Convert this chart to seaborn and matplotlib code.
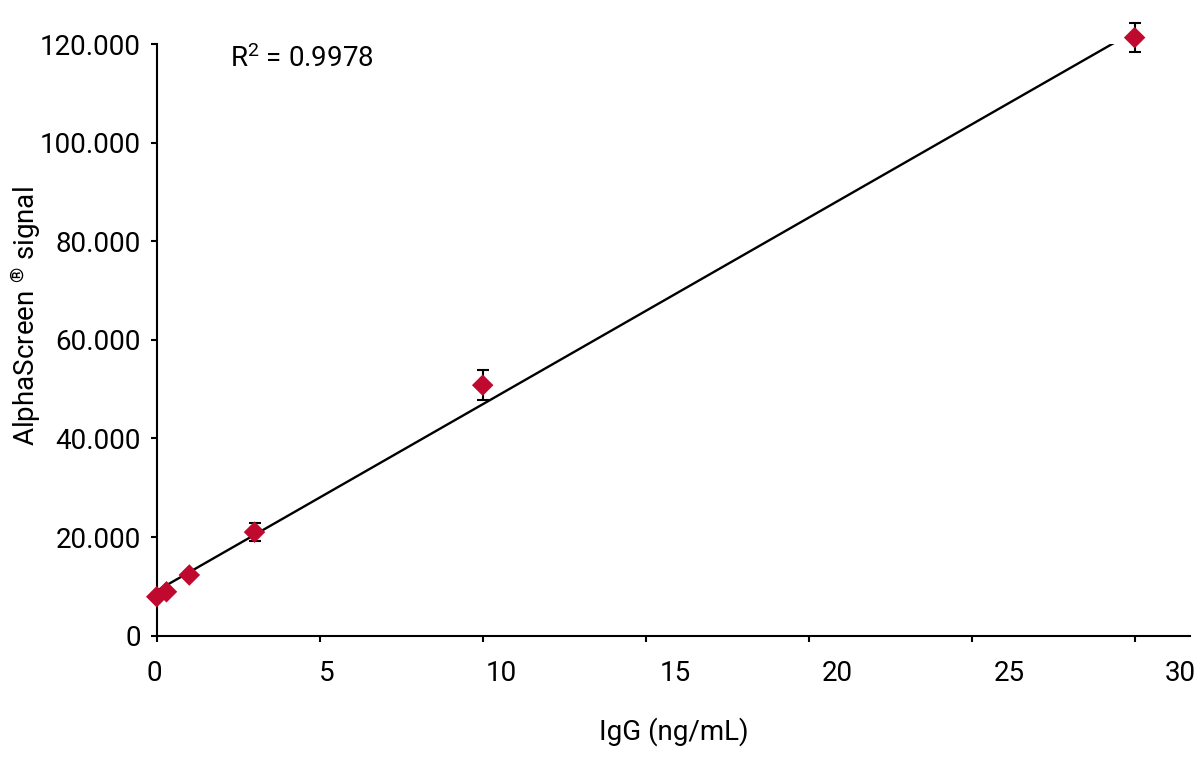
import numpy as np
import pandas as pd
import matplotlib
matplotlib.use("Agg")
import matplotlib.pyplot as plt
import matplotlib.transforms as mtransforms
import seaborn as sns

# values
conc = [0, 0.3, 1, 3, 10, 30]                               # IgG (ng/mL)
signal = [7900, 8900, 12300, 21000, 50800, 121300]          # AlphaScreen signal
signal_sd = [400, 400, 600, 1900, 3000, 3000]
r2_text = "0.9978"
x_ticks = [0, 5, 10, 15, 20, 25, 30]
y_ticks = [0, 20000, 40000, 60000, 80000, 100000, 120000]
y_tick_labels = ["0", "20.000", "40.000", "60.000", "80.000", "100.000", "120.000"]

# the original x tick labels drift to the right of their ticks (pixels)
x_label_shift_px = [-2, 7, 19, 30, 29, 38, 46]

point_color = "#C0092F"

sns.set_theme(style="ticks")
plt.rcParams["font.family"] = ["Roboto", "DejaVu Sans"]
plt.rcParams["mathtext.fontset"] = "custom"
plt.rcParams["mathtext.rm"] = "Roboto"
plt.rcParams["mathtext.default"] = "regular"

df = pd.DataFrame({"IgG": conc, "signal": signal, "sd": signal_sd})

fig = plt.figure(figsize=(12, 7.72), dpi=100)
ax = fig.add_axes([0.1306, 0.1766, 0.8611, 0.7664])

# error bars behind the markers
ax.errorbar(df["IgG"], df["signal"], yerr=df["sd"], fmt="none", ecolor="black",
            elinewidth=1.5, capsize=4.5, capthick=1.5, clip_on=False, zorder=2)

# linear fit
sns.regplot(data=df, x="IgG", y="signal", scatter=False, ci=None, truncate=True,
            line_kws=dict(color="black", lw=1.7, zorder=3), ax=ax)

# points
sns.scatterplot(data=df, x="IgG", y="signal", marker="D", s=120, color=point_color,
                edgecolor="none", linewidth=0, zorder=4, clip_on=False, ax=ax)

ax.set_xlim(0, 31.7)
ax.set_ylim(0, 120000)
ax.set_xticks(x_ticks)
ax.set_xticklabels([str(t) for t in x_ticks])
ax.set_yticks(y_ticks)
ax.set_yticklabels(y_tick_labels)

sns.despine(ax=ax)
for side in ["left", "bottom"]:
    ax.spines[side].set_linewidth(1.5)
    ax.spines[side].set_color("black")
ax.tick_params(axis="both", direction="out", length=4.5, width=1.5, color="black",
               labelsize=20, labelcolor="black")
ax.tick_params(axis="x", pad=13)
ax.tick_params(axis="y", pad=7)

for lab, dx in zip(ax.get_xticklabels(), x_label_shift_px):
    offset = mtransforms.ScaledTranslation(dx / 100.0, 0, fig.dpi_scale_trans)
    lab.set_transform(lab.get_transform() + offset)

ax.set_xlabel("IgG (ng/mL)", fontsize=20, color="black", labelpad=22)
ax.set_ylabel("AlphaScreen $^{®}$ signal", fontsize=20, color="black")
ax.yaxis.set_label_coords(-0.1275, 0.54)
ax.yaxis.label.set_va("center")

ax.text(2.25, 117000, "R$^{2}$ = " + r2_text, fontsize=20, color="black",
        ha="left", va="center")

fig.savefig("out.png", dpi=100)
